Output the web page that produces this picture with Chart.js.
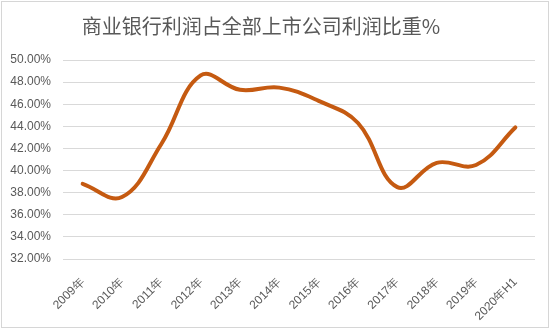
<!DOCTYPE html>
<html>
<head>
<meta charset="utf-8">
<script src="https://cdn.jsdelivr.net/npm/chart.js@4"></script>
<style>
  html, body { margin: 0; padding: 0; background: #fff; }
  #wrap { position: relative; width: 550px; height: 329px; }
  #chart { position: absolute; left: 0; top: 0; }
  #title {
    position: absolute; left: 0; width: 522px; top: 13px;
    text-align: center; font-family: "Noto Sans CJK SC", sans-serif;
    font-size: 20px; line-height: 26px; color: #595959;
  }
  #frame {
    position: absolute; left: 1px; top: 1px; width: 546px; height: 325px;
    border: 1px solid #d6d6d6; pointer-events: none;
  }
</style>
</head>
<body>
<div id="wrap">
  <canvas id="chart" width="550" height="329"></canvas>
  <div id="title">商业银行利润占全部上市公司利润比重%</div>
  <div id="frame"></div>
</div>
<script>
// Years on the category axis
const categories = ['2009年', '2010年', '2011年', '2012年', '2013年', '2014年',
                    '2015年', '2016年', '2017年', '2018年', '2019年', '2020年H1'];
// Share of bank profit in all listed-company profit, in percent
const bankShare = [38.8, 37.6, 42.4, 48.6, 47.3, 47.5, 46.3, 44.3, 38.5, 40.7, 40.5, 43.9];
// Value-axis range
const yMin = 32;
const yMax = 50;
const yStep = 2;

const textColor = '#595959';
const gridColor = '#d9d9d9';

new Chart(document.getElementById('chart'), {
  type: 'line',
  data: {
    labels: categories,
    datasets: [{
      data: bankShare,
      borderColor: '#C55A11',
      borderWidth: 4,
      tension: 0.4,
      pointRadius: 0,
      borderCapStyle: 'round',
      fill: false
    }]
  },
  options: {
    responsive: false,
    animation: false,
    layout: { padding: { left: 0, right: 15, top: 60, bottom: 0 } },
    plugins: { legend: { display: false }, title: { display: false }, tooltip: { enabled: false } },
    scales: {
      x: {
        offset: true,
        grid: { display: false, offset: true },
        border: { display: false },
        ticks: {
          color: textColor,
          font: { family: 'Liberation Sans, Arial, sans-serif', size: 12 },
          minRotation: 45, maxRotation: 45, padding: 8, autoSkip: false
        },
        afterFit(scale) { scale.height = 70; }
      },
      y: {
        min: yMin, max: yMax,
        grid: { color: gridColor, lineWidth: 1, drawTicks: false },
        border: { display: false },
        ticks: {
          stepSize: yStep,
          color: textColor,
          padding: 12,
          font: { family: 'Liberation Sans, Arial, sans-serif', size: 12 },
          callback: v => v.toFixed(2) + '%'
        },
        afterFit(scale) { scale.width = 63; }
      }
    }
  }
});
</script>
</body>
</html>
